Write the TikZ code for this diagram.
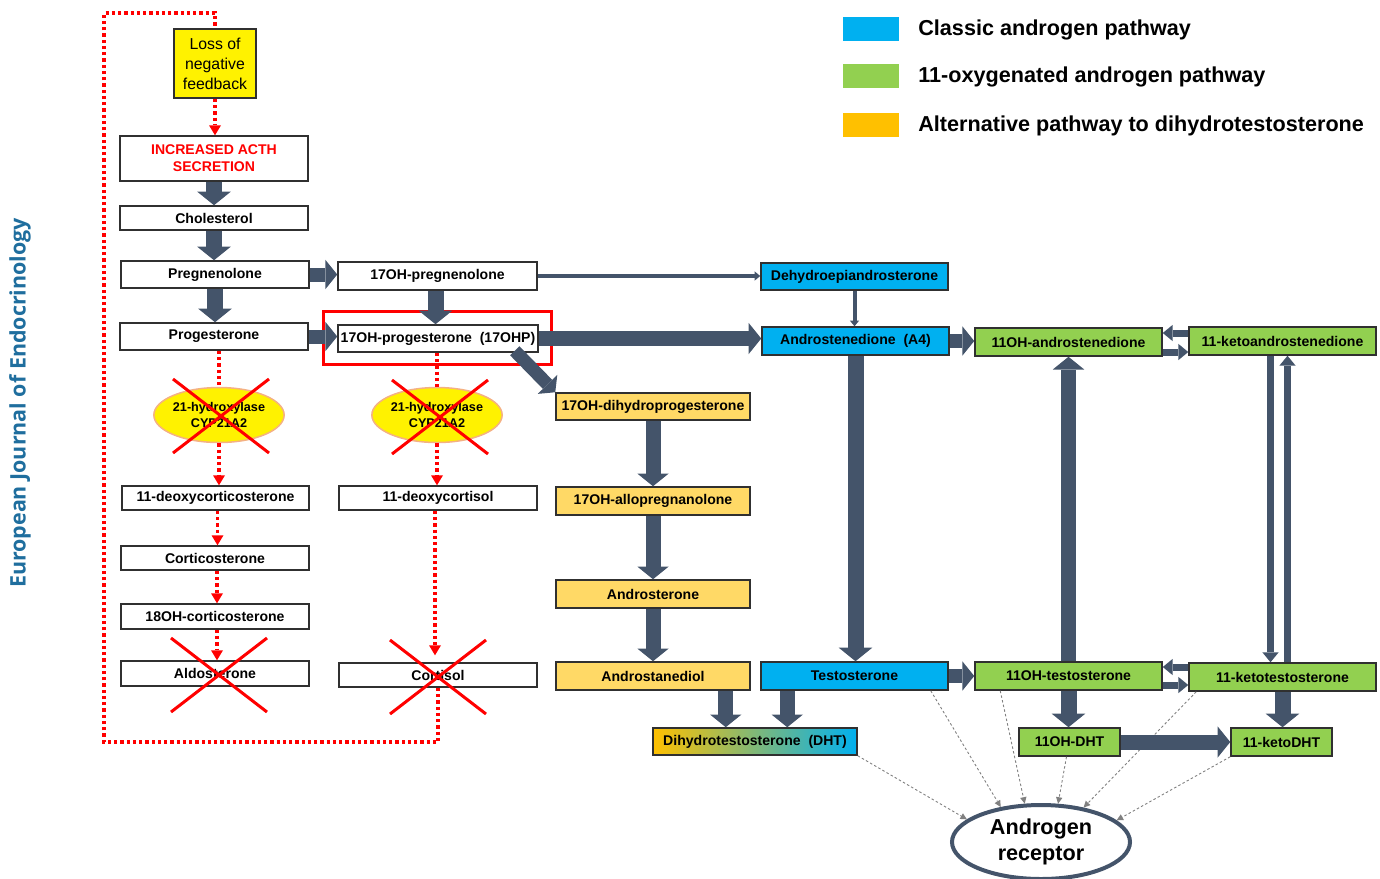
\documentclass[tikz,border=0pt]{standalone}
\usepackage{fontspec}
\usepackage{tikz}
\usetikzlibrary{arrows.meta,shapes.geometric,calc}
\setmainfont{Liberation Sans}
\newfontfamily\ejefont{Open Sans}

\newcommand{\pxu}{0.2mm}
\definecolor{slate}{HTML}{44546A}
\definecolor{classic}{HTML}{00B0F0}
\definecolor{oxy}{HTML}{92D050}
\definecolor{alt}{HTML}{FFD966}
\definecolor{altleg}{HTML}{FFC000}
\definecolor{dhtmid}{HTML}{B4B2AA}
\definecolor{enzline}{HTML}{F4B183}
\definecolor{ejeblue}{HTML}{1F6E9E}
\definecolor{boxline}{HTML}{303030}

\tikzset{
  fluxarrow/.code n args={3}{%
    \pgfmathsetlengthmacro\fluxw{#1*0.2mm}%
    \pgfmathsetlengthmacro\fluxh{#2*#1*0.2mm}%
    \pgfmathsetlengthmacro\fluxl{#3*#1*0.2mm}%
    \tikzset{draw=slate, line width=\fluxw,
      -{Triangle[length=\fluxl, width=\fluxh, line width=0pt]}}},
  flux/.style={fluxarrow={#1}{2.1}{0.85}},
  slim/.style={fluxarrow={#1}{2.3}{1.4}},
  redflow/.style={draw=red, line width=0.65mm, dash pattern=on 0.65mm off 0.6mm},
  redtip/.style={-{Triangle[length=2mm, width=2.4mm, line width=0pt]}},
  hint/.style={draw=gray, line width=0.18mm, dash pattern=on 0.5mm off 0.45mm,
    -{Triangle[length=1.3mm, width=1.3mm, line width=0pt]}},
  box/.style={draw=boxline, line width=0.3mm, inner sep=0pt, align=center,
    font=\fontsize{8}{9.6}\selectfont\bfseries},
  sz/.style 2 args={minimum width=#1*\pxu, minimum height=#2*\pxu},
  enzyme/.style={ellipse, draw=enzline, fill=yellow, line width=0.3mm, inner sep=0pt,
    minimum width=124*\pxu, minimum height=55*\pxu, align=center,
    font=\fontsize{7.2}{9}\selectfont\bfseries},
  legend/.style={anchor=west, inner sep=0pt, font=\fontsize{12.3}{14}\selectfont\bfseries},
  xmark/.pic={\draw[red, line width=0.6mm] (-48,-37) -- (48,37) (-48,37) -- (48,-37);},
}

\begin{document}
\begin{tikzpicture}[x=0.2mm, y=-0.2mm]
  \useasboundingbox (0,0) rectangle (1380,878);

  % journal tag
  \node[rotate=90, text=ejeblue, font=\ejefont\bfseries\fontsize{12.2}{14}\selectfont] (eje) at (20,403)
    {European Journal of Endocrinology};

  % legend
  \fill[classic] (843,17) rectangle (899,41);
  \fill[oxy] (843,64) rectangle (899,88);
  \fill[altleg] (843,113) rectangle (899,137);
  \node[legend] (lclassic) at (918,30) {Classic androgen pathway};
  \node[legend] (loxy) at (918,77) {11-oxygenated androgen pathway};
  \node[legend] (lalt) at (918,126) {Alternative pathway to dihydrotestosterone};

  % adrenal column
  \node[box, sz={82}{69}, fill=yellow, font=\fontsize{9}{11.3}\selectfont] (loss) at (215,63.5)
    {Loss of\\negative\\feedback};
  \node[box, sz={188}{45}, text=red] (acth) at (214,158.5) {INCREASED ACTH\\SECRETION};
  \node[box, sz={188}{24}] (chol) at (214,218) {Cholesterol};
  \node[box, sz={188}{27}] (preg) at (215,274.5) {Pregnenolone};
  \node[box, sz={199}{28}] (ohpreg) at (437.5,276) {17OH-pregnenolone};
  \node[box, sz={188}{27}] (prog) at (214,336.5) {Progesterone};
  \node[box, sz={200}{27}] (ohp) at (438,338.5) {17OH-progesterone\ \ (17OHP)};
  \draw[red, line width=0.6mm] ($(ohp.south west)+(-14,12)$) rectangle ($(ohp.north east)+(13,-13)$);

  \node[enzyme] (enz1) at (219,415) {21-hydroxylase\\CYP21A2};
  \node[enzyme] (enz2) at (437,415) {21-hydroxylase\\CYP21A2};

  \node[box, sz={187}{24}] (doc) at (215.5,498) {11-deoxycorticosterone};
  \node[box, sz={198}{24}] (dcl) at (438,498) {11-deoxycortisol};
  \node[box, sz={188}{24}] (cort) at (215,558) {Corticosterone};
  \node[box, sz={188}{25}] (ohcort) at (215,616.5) {18OH-corticosterone};
  \node[box, sz={188}{25}] (aldo) at (215,673.5) {Aldosterone};
  \node[box, sz={198}{24}] (cortisol) at (438,675) {Cortisol};

  % androgen side
  \node[box, sz={194}{27}, fill=alt] (ohdp) at (653,406.5) {17OH-dihydroprogesterone};
  \node[box, sz={194}{28}, fill=alt] (allo) at (653,501) {17OH-allopregnanolone};
  \node[box, sz={194}{28}, fill=alt] (andro) at (653,594) {Androsterone};
  \node[box, sz={194}{28}, fill=alt] (adiol) at (653,676) {Androstanediol};
  \node[box, sz={204}{27}, left color=altleg, middle color=dhtmid, right color=classic] (dht)
    at (755,741.5) {Dihydrotestosterone\ \ (DHT)};

  \node[box, sz={187}{27}, fill=classic] (dhea) at (854.5,276.5) {Dehydroepiandrosterone};
  \node[box, sz={187}{28}, fill=classic] (a4) at (855.5,341) {Androstenedione\ \ (A4)};
  \node[box, sz={187}{28}, fill=classic] (testo) at (854.5,676) {Testosterone};

  \node[box, sz={187}{28}, fill=oxy] (ohandro) at (1068.5,342) {11OH-androstenedione};
  \node[box, sz={187}{28}, fill=oxy] (keto) at (1282.5,341) {11-ketoandrostenedione};
  \node[box, sz={187}{28}, fill=oxy] (ohtesto) at (1068.5,676) {11OH-testosterone};
  \node[box, sz={187}{28}, fill=oxy] (ketotesto) at (1282.5,677) {11-ketotestosterone};
  \node[box, sz={101}{28}, fill=oxy] (ohdht) at (1069.5,742) {11OH-DHT};
  \node[box, sz={101}{28}, fill=oxy] (ketodht) at (1281.5,742) {11-ketoDHT};

  \node[ellipse, draw=slate, line width=0.8mm, inner sep=0pt, sz={178}{74}, align=center,
    font=\fontsize{12.3}{14.7}\selectfont\bfseries] (ar) at (1041,842) {Androgen\\receptor};

  % receptor binding
  \draw[hint] (dht.south east) -- (ar.163);
  \draw[hint] ($(testo.south east)+(-18,0)$) -- (ar.139);
  \draw[hint] ($(ohtesto.south west)+(26,0)$) -- (ar.113);
  \draw[hint] ($(ohdht.south)+(-3,0)$) -- (ar.66);
  \draw[hint] ($(ketotesto.south west)+(8,0)$) -- (ar.39);
  \draw[hint] (ketodht.south west) -- (ar.16);

  % red dotted paths
  \coordinate (lb) at (104,742);
  \coordinate (lt) at (104,13);
  \draw[redflow] (cortisol.south) |- (lb) -- (lt) -| (loss.north);
  \draw[redflow, redtip] (loss.south) -- (loss.south |- acth.north);
  \draw[redflow] (enz1.north |- prog.south) -- (enz1.north);
  \draw[redflow, redtip] (enz1.south) -- (enz1.south |- doc.north);
  \draw[redflow] (enz2.north |- ohp.south) -- (enz2.north);
  \draw[redflow, redtip] (enz2.south) -- (enz2.south |- dcl.north);
  \coordinate (r1) at ($(doc.south)+(2,0)$);
  \coordinate (r2) at ($(cort.south)+(2,0)$);
  \coordinate (r3) at ($(ohcort.south)+(2,0)$);
  \coordinate (r4) at ($(dcl.south)+(-3,0)$);
  \draw[redflow, redtip] (r1) -- (r1 |- cort.north);
  \draw[redflow, redtip] (r2) -- (r2 |- ohcort.north);
  \draw[redflow, redtip] (r3) -- (r3 |- aldo.north);
  \draw[redflow, redtip] (r4) -- ($(r4 |- cortisol.north)+(0,-7)$);

  % pathway arrows
  \draw[flux=16] (acth.south) -- (acth.south |- chol.north);
  \draw[flux=16] (chol.south) -- (chol.south |- preg.north);
  \draw[flux=16] (preg.south) -- (preg.south |- prog.north);
  \draw[flux=14] (preg.east) -- (preg.east -| ohpreg.west);
  \draw[flux=14] (prog.east) -- (prog.east -| ohp.west);
  \coordinate (p1) at ($(ohpreg.south)+(-2,0)$);
  \draw[flux=16] (p1) -- (p1 |- ohp.north);
  \draw[slim=4] (ohpreg.east) -- (ohpreg.east -| dhea.west);
  \draw[slim=4] (dhea.south) -- (dhea.south |- a4.north);
  \draw[flux=15] (ohp.east) -- (ohp.east -| a4.west);
  \draw[flux=13] ($(ohp.south east)+(-24,-2)$) -- (ohdp.north west);
  \draw[flux=15] (ohdp.south) -- (ohdp.south |- allo.north);
  \draw[flux=15] (allo.south) -- (allo.south |- andro.north);
  \draw[flux=15] (andro.south) -- (andro.south |- adiol.north);
  \coordinate (d1) at ($(adiol.south east)+(-25,0)$);
  \coordinate (d2) at ($(testo.south west)+(27,0)$);
  \draw[flux=15] (d1) -- (d1 |- dht.north);
  \draw[flux=15] (d2) -- (d2 |- dht.north);
  \draw[flux=16] (a4.south) -- (a4.south |- testo.north);
  \draw[flux=14] (a4.east) -- (a4.east -| ohandro.west);
  \draw[flux=14] (testo.east) -- (testo.east -| ohtesto.west);
  \draw[flux=15] (ohtesto.north) -- (ohtesto.north |- ohandro.south);
  \coordinate (ka) at ($(keto.west)+(0,-8)$);
  \coordinate (oa) at ($(ohandro.east)+(0,10)$);
  \draw[slim=7] (ka) -- (ka -| ohandro.east);
  \draw[slim=7] (oa) -- (oa -| keto.west);
  \coordinate (kd) at ($(keto.south)+(-12,0)$);
  \coordinate (ku) at ($(ketotesto.north)+(5,0)$);
  \draw[slim=7] (kd) -- (kd |- ketotesto.north);
  \draw[slim=7] (ku) -- (ku |- keto.south);
  \coordinate (kt) at ($(ketotesto.west)+(0,-10)$);
  \coordinate (ot) at ($(ohtesto.east)+(0,9)$);
  \draw[slim=7] (kt) -- (kt -| ohtesto.east);
  \draw[slim=7] (ot) -- (ot -| ketotesto.west);
  \draw[flux=16] (ohtesto.south) -- (ohtesto.south |- ohdht.north);
  \draw[flux=16] (ketotesto.south) -- (ketotesto.south |- ketodht.north);
  \draw[flux=15] (ohdht.east) -- (ohdht.east -| ketodht.west);

  % blocked steps
  \pic at ($(enz1)+(2,1)$) {xmark};
  \pic at ($(enz2)+(3,2)$) {xmark};
  \pic at ($(aldo)+(4,1.5)$) {xmark};
  \pic at ($(cortisol)+(0,2)$) {xmark};
\end{tikzpicture}
\end{document}
